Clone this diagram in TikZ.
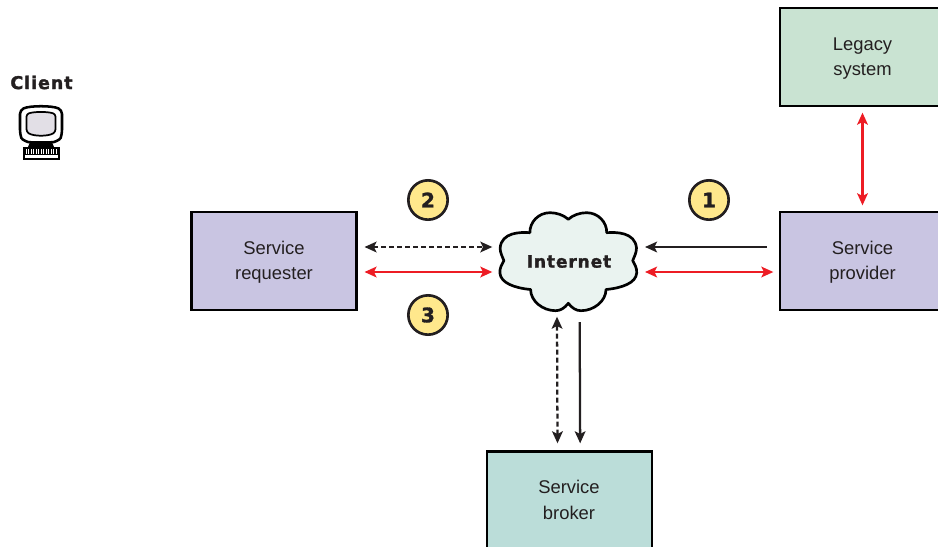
\documentclass[tikz,border=0pt]{standalone}
\usepackage{fontspec}
\setmainfont{Liberation Sans}
\newfontfamily\heavyfont[LetterSpace=5,FakeBold=1.6]{DejaVu Sans Bold}
\newfontfamily\digitfont[FakeBold=1.5]{DejaVu Sans Bold}
\usetikzlibrary{arrows.meta}
\definecolor{boxviolet}{HTML}{C9C5E2}
\definecolor{boxgreen}{HTML}{C9E3D2}
\definecolor{boxteal}{HTML}{BBDDD9}
\definecolor{cloudfill}{HTML}{EAF3F0}
\definecolor{badgefill}{HTML}{FFE88C}
\definecolor{arrowred}{HTML}{ED1C24}
\definecolor{inkdark}{HTML}{231F20}
\definecolor{screengrey}{HTML}{E2DFE6}
\newcommand{\lift}{\rule{0pt}{11.5pt}}
\tikzset{
  x=0.75pt,y=-0.75pt,
  tip/.tip={Stealth[length=9pt,width=8pt,inset=2pt]},
  service/.style={draw=black,line width=2pt,minimum width=123.75pt,minimum height=73.5pt,inner sep=0pt,align=center,font=\fontsize{13.8}{18.8}\selectfont,text=inkdark},
  badge/.style={circle,draw=inkdark,line width=2pt,fill=badgefill,minimum size=29.5pt,inner sep=0pt,text=inkdark,font=\digitfont\fontsize{15}{16}\selectfont},
  heavy/.style={text=inkdark,inner sep=0pt},
  link/.style={line width=1.7pt,draw=inkdark,-tip},
  biink/.style={line width=1.7pt,draw=inkdark,tip-tip},
  bidash/.style={biink,dash pattern=on 3.75pt off 2.25pt},
  bired/.style={line width=1.7pt,draw=arrowred,tip-tip},
}
\begin{document}
\begin{tikzpicture}
\useasboundingbox (0,0) rectangle (938,546);
\clip (0,0) rectangle (938,546);
% cloud
\draw[line width=2pt,fill=cloudfill,draw=black,line join=round]
  (568.3,219.3) .. controls (573,215) and (580,212.7) .. (586.7,212.7)
  .. controls (598,212.7) and (607,222) .. (606.7,232.7)
  .. controls (616,232) and (635,232) .. (636.5,248)
  .. controls (636.5,253) and (634,257) .. (632.7,260.7)
  .. controls (635,265) and (637,268) .. (636.7,273)
  .. controls (636,283) and (622,288) .. (606,289.5)
  .. controls (606,301) and (594,310.7) .. (581,310.7)
  .. controls (576,310.7) and (572,308) .. (568.3,303.3)
  .. controls (564.6,308) and (560.6,310.7) .. (555.6,310.7)
  .. controls (542.6,310.7) and (530.6,301) .. (530.6,289.5)
  .. controls (514.6,288) and (500.6,283) .. (499.9,273)
  .. controls (499.6,268) and (501.6,265) .. (503.9,260.7)
  .. controls (502.6,257) and (500.1,253) .. (500.1,248)
  .. controls (501.6,232) and (520.6,232) .. (529.9,232.7)
  .. controls (529.6,222) and (538.6,212.7) .. (549.9,212.7)
  .. controls (556.6,212.7) and (563.6,215) .. (568.3,219.3) -- cycle;
\node[heavy,font=\heavyfont\fontsize{12.8}{14}\selectfont] (inet) at (569,261.5) {Internet};
\coordinate (inetW) at (499,261);
\coordinate (inetE) at (637,261);
\coordinate (inetS) at (569,310);
% boxes
\node[service,fill=boxviolet] (req) at (274,261) {\lift Service\\requester};
\node[service,fill=boxviolet] (prov) at (862.5,261) {\lift Service\\provider};
\node[service,fill=boxgreen] (legacy) at (862.5,57) {\lift Legacy\\system};
\node[service,fill=boxteal,anchor=north,minimum height=80pt] (broker) at (569.5,450) {};
\node[inner sep=0pt,align=center,font=\fontsize{13.8}{19.5}\selectfont,text=inkdark] (brokertext) at (569,500) {Service\\broker};
% connectors
\draw[bidash] ([xshift=5pt,yshift=10.5pt]req.east) -- ([xshift=-5pt,yshift=10.5pt]inetW);
\draw[bired] ([xshift=5pt,yshift=-8.25pt]req.east) -- ([xshift=-5pt,yshift=-8.25pt]inetW);
\draw[link] ([xshift=-9pt,yshift=10.5pt]prov.west) -- ([xshift=6pt,yshift=10.5pt]inetE);
\draw[bired] ([xshift=-4pt,yshift=-8.25pt]prov.west) -- ([xshift=6pt,yshift=-8.25pt]inetE);
\draw[bired] ([yshift=4pt]prov.north) -- ([yshift=-4pt]legacy.south);
\draw[bidash] ([xshift=-9pt,yshift=5pt]broker.north) -- ([xshift=-9pt,yshift=-5pt]inetS);
\draw[link] ([xshift=8pt,yshift=-9pt]inetS) -- ([xshift=8pt,yshift=5pt]broker.north);
% badges
\node[badge] (b2) at (428,200) {2};
\node[badge] (b3) at (428,315) {3};
\node[badge] (b1) at (709,200) {1};
% client
\node[heavy,font=\heavyfont\fontsize{13.2}{15}\selectfont] (client) at (41.5,82.5) {Client};
% monitor icon
\draw[line width=1.9pt,fill=white,line join=round,rounded corners=3pt] (20,110) .. controls (30,105.5) and (52,105.5) .. (62,110) -- (62,134) .. controls (60,140) and (54,142) .. (50,142.5) -- (32,142.5) .. controls (28,142) and (22,140) .. (20,134) -- cycle;
\draw[line width=1.3pt,fill=screengrey,rounded corners=2pt] (26.5,114) .. controls (35,111.5) and (47,111.5) .. (55.5,114) -- (55.5,132) .. controls (48,136.5) and (34,136.5) .. (26.5,132) -- cycle;
\fill[black] (30,142) -- (52,142) -- (54,147) -- (28,147) -- cycle;
\fill[black] (23,147) rectangle (60,159.5);
\fill[white] (25,155) rectangle (58,157.5);
\foreach \k in {26,28.5,...,56} {\draw[white,line width=0.5pt] (\k,149) -- (\k,154);}
\end{tikzpicture}
\end{document}
